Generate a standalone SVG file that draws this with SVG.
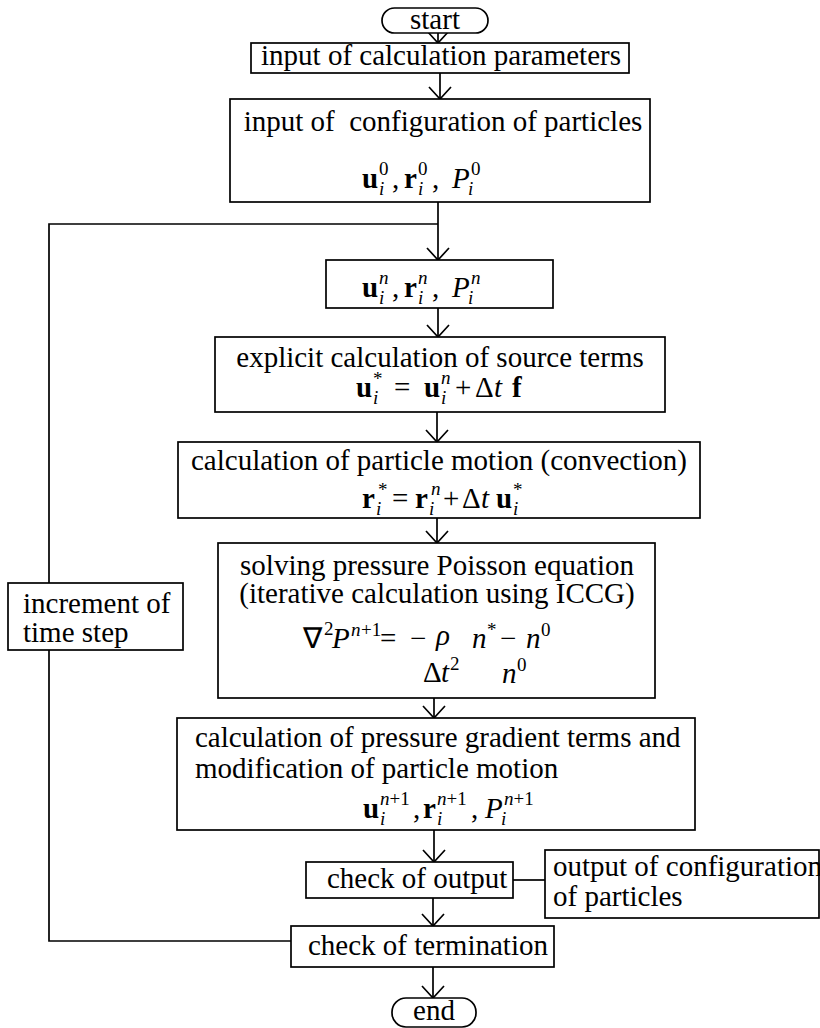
<svg xmlns="http://www.w3.org/2000/svg" width="820" height="1028" viewBox="0 0 820 1028">
<defs>
<marker id="arr" viewBox="0 0 14 24" refX="13" refY="12" markerWidth="14" markerHeight="24" markerUnits="userSpaceOnUse" orient="auto">
<path d="M1,1 L13,12 L1,23" fill="none" stroke="#000" stroke-width="1.7"/>
</marker>
<style>
.box{fill:#fff;stroke:#000;stroke-width:1.7}
.ln{fill:none;stroke:#000;stroke-width:1.7}
.t{font-family:"Liberation Serif","Times New Roman",serif;font-size:29px;fill:#000}
.c{text-anchor:middle}
.b{font-weight:bold}
.i{font-style:italic}
.s{font-size:19px}
</style>
</defs>
<rect width="820" height="1028" fill="#fff"/>
<g id="connectors">
<path class="ln" d="M438,33 V43" marker-end="url(#arr)"/>
<path class="ln" d="M440,73 V99" marker-end="url(#arr)"/>
<path class="ln" d="M438,202 V260" marker-end="url(#arr)"/>
<path class="ln" d="M438,308 V337" marker-end="url(#arr)"/>
<path class="ln" d="M437,412 V442" marker-end="url(#arr)"/>
<path class="ln" d="M437,518 V543" marker-end="url(#arr)"/>
<path class="ln" d="M434,698 V718" marker-end="url(#arr)"/>
<path class="ln" d="M434,830 V862" marker-end="url(#arr)"/>
<path class="ln" d="M433,898 V926" marker-end="url(#arr)"/>
<path class="ln" d="M433,967 V998" marker-end="url(#arr)"/>
<path class="ln" d="M513,880 H545"/>
<path class="ln" d="M291,941 H49 V224 H438"/>
</g>
<g id="start">
<rect class="box" x="382" y="8" width="106" height="25" rx="12.5"/>
<text class="t c" x="435" y="29">start</text>
</g>
<g id="input-params">
<rect class="box" x="251" y="43" width="378" height="30"/>
<text class="t c" x="441" y="65">input of calculation parameters</text>
</g>
<g id="input-config">
<rect class="box" x="230" y="99" width="420" height="103"/>
<text class="t c" x="443" y="131" xml:space="preserve">input of  configuration of particles</text>
<text class="t b" x="362" y="188">u</text>
<text class="t s i" x="379" y="195">i</text>
<text class="t s" x="379" y="175">0</text>
<text class="t" x="392" y="188">,</text>
<text class="t b" x="404" y="188">r</text>
<text class="t s i" x="418" y="195">i</text>
<text class="t s" x="418" y="175">0</text>
<text class="t" x="432" y="188">,</text>
<text class="t i" x="452" y="188">P</text>
<text class="t s i" x="468" y="195">i</text>
<text class="t s" x="471" y="175">0</text>
</g>
<g id="state-n">
<rect class="box" x="326" y="260" width="227" height="48"/>
<text class="t b" x="362" y="297">u</text>
<text class="t s i" x="379" y="304">i</text>
<text class="t s i" x="379" y="284">n</text>
<text class="t" x="392" y="297">,</text>
<text class="t b" x="404" y="297">r</text>
<text class="t s i" x="418" y="304">i</text>
<text class="t s i" x="418" y="284">n</text>
<text class="t" x="432" y="297">,</text>
<text class="t i" x="452" y="297">P</text>
<text class="t s i" x="468" y="304">i</text>
<text class="t s i" x="471" y="284">n</text>
</g>
<g id="explicit">
<rect class="box" x="215" y="337" width="450" height="75"/>
<text class="t c" x="440" y="367">explicit calculation of source terms</text>
<text class="t b" x="356" y="397">u</text>
<text class="t s i" x="373" y="404">i</text>
<text class="t s" x="373" y="385">*</text>
<text class="t" x="394" y="397">=</text>
<text class="t b" x="424" y="397">u</text>
<text class="t s i" x="441" y="404">i</text>
<text class="t s i" x="441" y="384">n</text>
<text class="t" x="455" y="397">+</text>
<text class="t" x="475" y="397">Δ</text>
<text class="t i" x="494" y="397">t</text>
<text class="t b" x="512" y="397">f</text>
</g>
<g id="convection">
<rect class="box" x="178" y="442" width="522" height="76"/>
<text class="t c" x="439" y="470">calculation of particle motion (convection)</text>
<text class="t b" x="362" y="508">r</text>
<text class="t s i" x="376" y="515">i</text>
<text class="t s" x="378" y="496">*</text>
<text class="t" x="392" y="508">=</text>
<text class="t b" x="415" y="508">r</text>
<text class="t s i" x="429" y="515">i</text>
<text class="t s i" x="431" y="495">n</text>
<text class="t" x="443" y="508">+</text>
<text class="t" x="462" y="508">Δ</text>
<text class="t i" x="481" y="508">t</text>
<text class="t b" x="496" y="508">u</text>
<text class="t s i" x="513" y="515">i</text>
<text class="t s" x="513" y="496">*</text>
</g>
<g id="poisson">
<rect class="box" x="218" y="543" width="437" height="155"/>
<text class="t c" x="437" y="575">solving pressure Poisson equation</text>
<text class="t c" x="437" y="603">(iterative calculation using ICCG)</text>
<text class="t" x="303" y="648">∇</text>
<text class="t s" x="324" y="635">2</text>
<text class="t i" x="332" y="648">P</text>
<text class="t s i" x="351" y="636">n</text>
<text class="t s" x="361" y="636">+1</text>
<text class="t" x="380" y="648">=</text>
<text class="t" x="410" y="648">−</text>
<text class="t i c" x="443" y="645">ρ</text>
<text class="t" x="423" y="682">Δ</text>
<text class="t i" x="441" y="682">t</text>
<text class="t s" x="450" y="670">2</text>
<text class="t i" x="472" y="648">n</text>
<text class="t s" x="487" y="636">*</text>
<text class="t" x="500" y="648">−</text>
<text class="t i" x="526" y="648">n</text>
<text class="t s" x="541" y="636">0</text>
<text class="t i" x="502" y="683">n</text>
<text class="t s" x="517" y="671">0</text>
</g>
<g id="gradient">
<rect class="box" x="177" y="718" width="518" height="112"/>
<text class="t" x="195" y="747">calculation of pressure gradient terms and</text>
<text class="t" x="195" y="778">modification of particle motion</text>
<text class="t b" x="363" y="818">u</text>
<text class="t s i" x="380" y="825">i</text>
<text class="t s" x="380" y="805"><tspan class="i">n</tspan>+1</text>
<text class="t" x="413" y="818">,</text>
<text class="t b" x="423" y="818">r</text>
<text class="t s i" x="437" y="825">i</text>
<text class="t s" x="437" y="805"><tspan class="i">n</tspan>+1</text>
<text class="t" x="471" y="818">,</text>
<text class="t i" x="485" y="818">P</text>
<text class="t s i" x="501" y="825">i</text>
<text class="t s" x="504" y="805"><tspan class="i">n</tspan>+1</text>
</g>
<g id="check-output">
<rect class="box" x="306" y="862" width="207" height="36"/>
<text class="t" x="327" y="888">check of output</text>
</g>
<g id="output-config">
<rect class="box" x="545" y="850" width="274" height="68"/>
<text class="t" x="553" y="876">output of configuration</text>
<text class="t" x="553" y="906">of particles</text>
</g>
<g id="termination">
<rect class="box" x="291" y="926" width="263" height="41"/>
<text class="t" x="308" y="955">check of termination</text>
</g>
<g id="increment">
<rect class="box" x="8" y="583" width="175" height="67"/>
<text class="t" x="23" y="613">increment of</text>
<text class="t" x="23" y="642">time step</text>
</g>
<g id="end">
<rect class="box" x="392" y="998" width="84" height="29" rx="14"/>
<text class="t c" x="434" y="1020">end</text>
</g>
</svg>
